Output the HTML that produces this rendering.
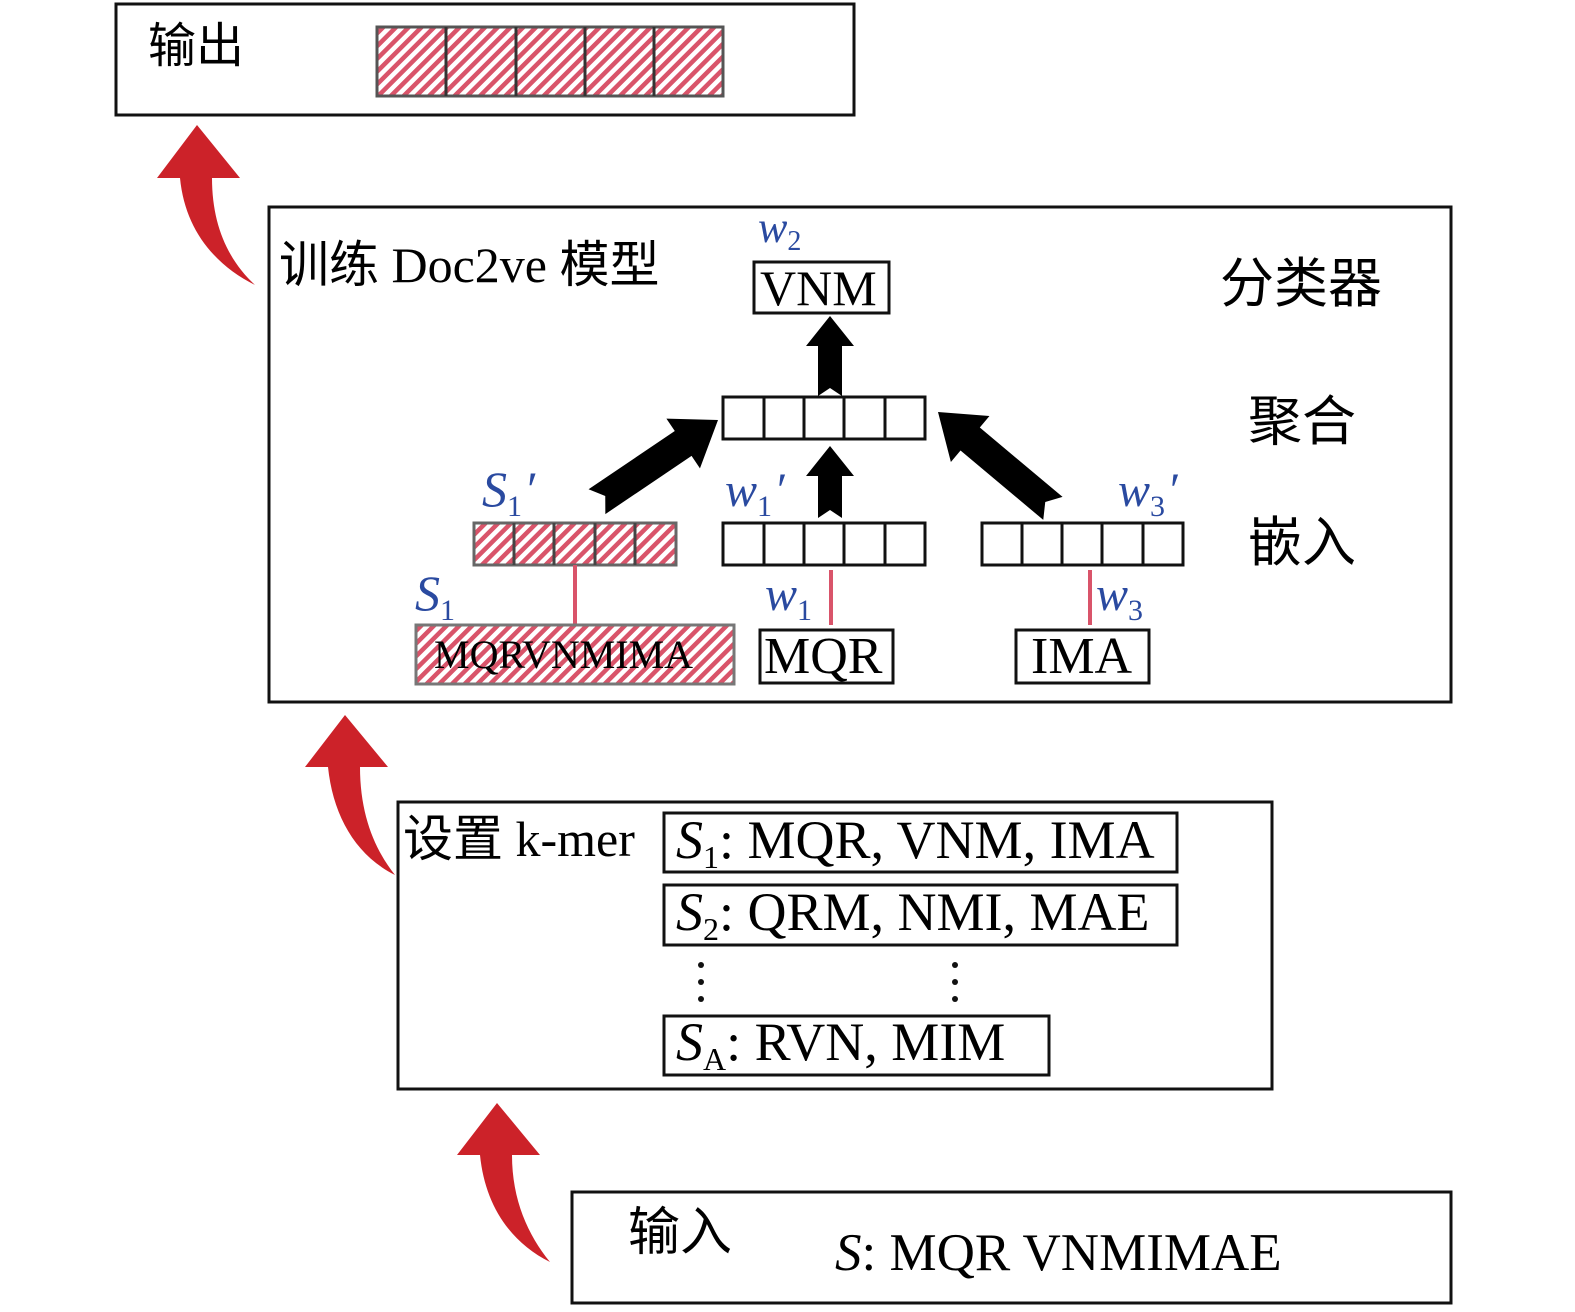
<!DOCTYPE html>
<html><head><meta charset="utf-8"><style>html,body{margin:0;padding:0;background:#fff;overflow:hidden;width:1575px;height:1312px}svg{display:block}</style></head>
<body>
<svg width="1575" height="1312" viewBox="0 0 1575 1312" xmlns="http://www.w3.org/2000/svg" font-family="'Liberation Serif','Noto Serif CJK SC',serif">
<defs>
<pattern id="h" width="9" height="9" patternUnits="userSpaceOnUse" patternTransform="rotate(45)">
<rect width="9" height="9" fill="#fff"/><rect width="4.5" height="9" fill="#d9546a"/>
</pattern>
</defs>
<g fill="none" stroke="#111" stroke-width="3">
<rect x="116" y="4" width="738" height="111"/>
<rect x="269" y="207" width="1182" height="495"/>
<rect x="398" y="802" width="874" height="287"/>
<rect x="572" y="1192" width="879" height="111"/>
</g>
<rect x="377" y="27" width="346" height="69" fill="url(#h)" stroke="#555" stroke-width="3"/>
<g stroke="#333" stroke-width="3"><line x1="446" y1="27" x2="446" y2="96"/><line x1="516" y1="27" x2="516" y2="96"/><line x1="585" y1="27" x2="585" y2="96"/><line x1="654" y1="27" x2="654" y2="96"/></g>
<text x="148" y="62" font-size="48" font-family="'Noto Sans CJK SC',sans-serif">输出</text>
<g fill="#cc2229">
<path d="M197,125 L240,178 L212,178 C212,225 228,260 255,285 C215,265 185,230 180,178 L157,178 Z"/>
<path d="M345,715 L388,767 L360,767 C360,815 375,850 395,875 C355,855 333,815 328,767 L305,767 Z"/>
<path d="M497,1103 L540,1155 L512,1155 C512,1200 528,1235 550,1262 C510,1242 485,1205 480,1155 L457,1155 Z"/>
</g>
<text x="279" y="282" font-size="50" font-family="'Liberation Serif','Noto Sans CJK SC',serif">训练 Doc2ve 模型</text>
<text x="1220" y="302" font-size="54" font-family="'Noto Sans CJK SC',sans-serif">分类器</text>
<text x="1248" y="440" font-size="54" font-family="'Noto Sans CJK SC',sans-serif">聚合</text>
<text x="1248" y="561" font-size="54" font-family="'Noto Sans CJK SC',sans-serif">嵌入</text>
<g fill="#2a4aa0" font-style="italic">
<text x="758" y="242" font-size="44">w<tspan font-style="normal" font-size="28" dy="8">2</tspan></text>
<text x="482" y="506" font-size="50">S<tspan font-style="normal" font-size="30" dy="10">1</tspan><tspan dy="-10" dx="2">′</tspan></text>
<text x="725" y="506" font-size="48">w<tspan font-style="normal" font-size="30" dy="10">1</tspan><tspan dy="-10" dx="2">′</tspan></text>
<text x="1118" y="506" font-size="48">w<tspan font-style="normal" font-size="30" dy="10">3</tspan><tspan dy="-10" dx="2">′</tspan></text>
<text x="415" y="610" font-size="50">S<tspan font-style="normal" font-size="30" dy="10">1</tspan></text>
<text x="765" y="610" font-size="48">w<tspan font-style="normal" font-size="30" dy="10">1</tspan></text>
<text x="1096" y="610" font-size="48">w<tspan font-style="normal" font-size="30" dy="10">3</tspan></text>
</g>
<rect x="754" y="262" width="135" height="51" fill="none" stroke="#111" stroke-width="3"/>
<text x="760" y="305" font-size="50">VNM</text>
<g fill="none" stroke="#111" stroke-width="3">
<rect x="723" y="397" width="202" height="42"/>
<line x1="764" y1="397" x2="764" y2="439"/><line x1="804" y1="397" x2="804" y2="439"/><line x1="844" y1="397" x2="844" y2="439"/><line x1="885" y1="397" x2="885" y2="439"/>
<rect x="723" y="523" width="202" height="42"/>
<line x1="764" y1="523" x2="764" y2="565"/><line x1="804" y1="523" x2="804" y2="565"/><line x1="844" y1="523" x2="844" y2="565"/><line x1="885" y1="523" x2="885" y2="565"/>
<rect x="982" y="523" width="201" height="42"/>
<line x1="1022" y1="523" x2="1022" y2="565"/><line x1="1062" y1="523" x2="1062" y2="565"/><line x1="1102" y1="523" x2="1102" y2="565"/><line x1="1143" y1="523" x2="1143" y2="565"/>
</g>
<rect x="474" y="523" width="202" height="42" fill="url(#h)" stroke="#666" stroke-width="3"/>
<g stroke="#444" stroke-width="3"><line x1="514" y1="523" x2="514" y2="565"/><line x1="554" y1="523" x2="554" y2="565"/><line x1="595" y1="523" x2="595" y2="565"/><line x1="635" y1="523" x2="635" y2="565"/></g>
<g stroke="#d9546a" stroke-width="4">
<line x1="575" y1="565" x2="575" y2="625"/>
<line x1="831" y1="570" x2="831" y2="625"/>
<line x1="1090" y1="570" x2="1090" y2="625"/>
</g>
<rect x="416" y="625" width="318" height="59" fill="url(#h)" stroke="#777" stroke-width="3"/>
<text x="434" y="668" font-size="40">MQRVNMIMA</text>
<rect x="760" y="630" width="133" height="53" fill="#fff" stroke="#111" stroke-width="3"/>
<text x="764" y="673" font-size="52">MQR</text>
<rect x="1016" y="630" width="133" height="53" fill="#fff" stroke="#111" stroke-width="3"/>
<text x="1031" y="673" font-size="52">IMA</text>
<g fill="#000">
<polygon transform="translate(830,316)" points="0,0 24,30 12,30 12,80 0,72 -12,80 -12,30 -24,30"/>
<polygon transform="translate(830,446)" points="0,0 24,30 12,30 12,72 0,64 -12,72 -12,30 -24,30"/>
<polygon transform="translate(718,420) rotate(56)" points="0,0 30,42 15,42 15,146 0,136 -15,146 -15,42 -30,42"/>
<polygon transform="translate(938,412) rotate(-50)" points="0,0 30,42 15,42 15,150 0,140 -15,150 -15,42 -30,42"/>
</g>
<text x="403" y="856" font-size="50" font-family="'Liberation Serif','Noto Sans CJK SC',serif">设置 k-mer</text>
<g fill="none" stroke="#111" stroke-width="3">
<rect x="664" y="813" width="513" height="59"/>
<rect x="664" y="885" width="513" height="60"/>
<rect x="664" y="1016" width="385" height="59"/>
</g>
<text x="676" y="858" font-size="54"><tspan font-style="italic">S</tspan><tspan font-size="32" dy="10">1</tspan><tspan dy="-10">: MQR, VNM, IMA</tspan></text>
<text x="676" y="930" font-size="54"><tspan font-style="italic">S</tspan><tspan font-size="32" dy="10">2</tspan><tspan dy="-10">: QRM, NMI, MAE</tspan></text>
<text x="676" y="1060" font-size="54"><tspan font-style="italic">S</tspan><tspan font-size="32" dy="10">A</tspan><tspan dy="-10">: RVN, MIM</tspan></text>
<g fill="#111">
<circle cx="701" cy="965" r="3"/><circle cx="701" cy="982" r="3"/><circle cx="701" cy="999" r="3"/>
<circle cx="955" cy="965" r="3"/><circle cx="955" cy="982" r="3"/><circle cx="955" cy="999" r="3"/>
</g>
<text x="628" y="1250" font-size="52" font-family="'Noto Sans CJK SC',sans-serif">输入</text>
<text x="835" y="1270" font-size="53"><tspan font-style="italic">S</tspan>: MQR VNMIMAE</text>
</svg>
</body></html>
